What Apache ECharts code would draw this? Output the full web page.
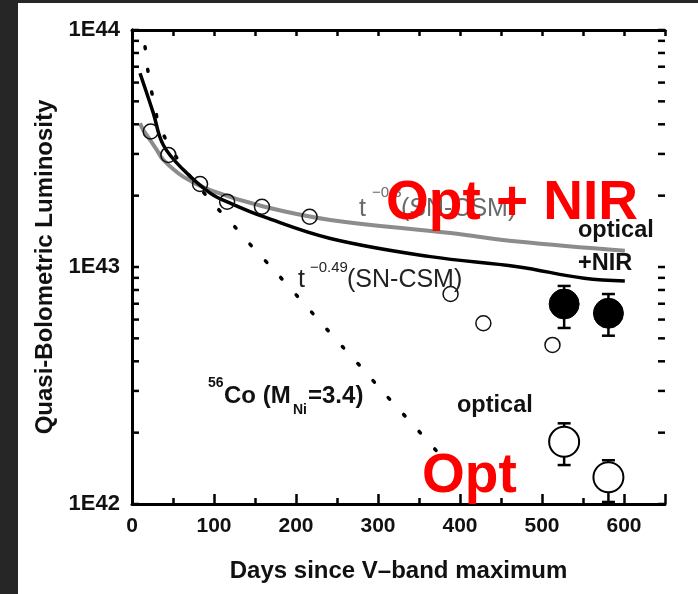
<!DOCTYPE html>
<html><head><meta charset="utf-8">
<script src="https://cdn.jsdelivr.net/npm/echarts@6/dist/echarts.min.js"></script>
<style>html,body{margin:0;padding:0;background:#fff}#c{width:698px;height:594px}</style>
</head><body><div id="c"></div><script>
// ---- data (days since V max, luminosity erg/s) ----
const optDays = [22.8, 44.3, 83, 116, 158.5, 216.6, 388.5, 428.5, 512.8];
const optLum  = [3.73e43, 2.97e43, 2.24e43, 1.886e43, 1.796e43, 1.63e43, 7.69e42, 5.79e42, 4.69e42];

const lateOptDays = [527, 581];
const lateOptLum  = [1.83e42, 1.297e42];
const lateOptLo   = [1.46e42, 1.02e42];
const lateOptHi   = [2.19e42, 1.53e42];

const nirDays = [527, 581];
const nirLum  = [6.98e42, 6.38e42];
const nirLo   = [5.53e42, 5.13e42];
const nirHi   = [8.32e42, 7.69e42];

const csm049Days = [9.8, 18, 26, 38.2, 62.7, 95.3, 119.7, 160.4, 241.9, 364.1, 470, 551.4, 601];
const csm049Lum  = [6.57e43, 5.41e43, 4.46e43, 3.27e43, 2.57e43, 2.05e43, 1.86e43, 1.63e43, 1.32e43, 1.106e43, 1.003e43, 8.96e42, 8.73e42];

const csm03Days = [9.8, 13.8, 22, 30.2, 38.2, 62.7, 95.3, 160.4, 241.9, 388.5, 470, 601];
const csm03Lum  = [4.04e43, 3.78e43, 3.44e43, 3.12e43, 2.83e43, 2.40e43, 2.11e43, 1.80e43, 1.58e43, 1.39e43, 1.28e43, 1.17e43];

const coDays = [15.9, 18.7, 22.8, 28.1, 33.4, 61.9, 104.2, 127.1, 149.1, 171.9, 260.2, 281.9, 303.9, 326.2, 348.6, 372.6];
const coLum  = [8.5e43, 7.0e43, 5.73e43, 4.74e43, 3.91e43, 2.65e43, 1.77e43, 1.456e43, 1.191e43, 9.81e42, 4.47e42, 3.70e42, 3.03e42, 2.494e42, 2.05e42, 1.656e42];

const xTickLabels = ['0','100','200','300','400','500','600'];
const yTickLabels = {42:'1E42', 43:'1E43', 44:'1E44'};
const yTickValues = [1e42,2e42,3e42,4e42,5e42,6e42,7e42,8e42,9e42,1e43,2e43,3e43,4e43,5e43,6e43,7e43,8e43,9e43,1e44];
const xRange = [0, 650];

// ---- chart ----
const FF = "'Liberation Sans', Arial, sans-serif";
const zip = (a, b) => a.map((v, i) => [v, b[i]]);
const chart = echarts.init(document.getElementById('c'), null, {renderer:'canvas'});

const axisLine = {show:true, lineStyle:{color:'#000', width:3}};
const tickStyle = {color:'#000', width:2.5};

function errRender(params, api) {
  const x = api.value(0);
  const pLo = api.coord([x, api.value(1)]);
  const pHi = api.coord([x, api.value(2)]);
  const w = 6.5;
  const st = {stroke:'#000', lineWidth:2.5};
  return {type:'group', children:[
    {type:'line', shape:{x1:pLo[0], y1:pLo[1], x2:pHi[0], y2:pHi[1]}, style:st},
    {type:'line', shape:{x1:pLo[0]-w, y1:pLo[1], x2:pLo[0]+w, y2:pLo[1]}, style:st},
    {type:'line', shape:{x1:pHi[0]-w, y1:pHi[1], x2:pHi[0]+w, y2:pHi[1]}, style:st}
  ]};
}

// inward y ticks on both frame sides, positioned by the log axis
function yTickRender(params, api) {
  const v = api.value(1);
  const pL = api.coord([xRange[0], v]);
  const pR = api.coord([xRange[1], v]);
  const len = 7;
  const st = {stroke:'#000', lineWidth:2.5};
  return {type:'group', children:[
    {type:'line', shape:{x1:pL[0], y1:pL[1], x2:pL[0]+len, y2:pL[1]}, style:st},
    {type:'line', shape:{x1:pR[0]-len, y1:pR[1], x2:pR[0], y2:pR[1]}, style:st}
  ]};
}

function T(text, x, y, size, weight, color, z) {
  return {type:'text', x:x, y:y, z: z || 50,
    style:{text:text, fontSize:size, fontWeight:weight, fontFamily:FF, fill:color,
           textAlign:'left', textVerticalAlign:'middle'}};
}

const option = {
  backgroundColor:'#fff',
  animation:false,
  grid:{left:132, right:33, top:30, bottom:90},
  xAxis:[
    {type:'value', min:xRange[0], max:xRange[1], interval:100, position:'bottom',
     axisLine:axisLine, axisTick:{inside:true, length:10, lineStyle:tickStyle},
     axisLabel:{formatter:v => xTickLabels.indexOf(String(v)) >= 0 ? String(v) : '',
                fontSize:21, fontWeight:'bold', color:'#111', fontFamily:FF, margin:12},
     splitLine:{show:false},
     name:'Days since V\u2013band maximum', nameLocation:'middle', nameGap:55,
     nameTextStyle:{fontSize:24, fontWeight:'bold', color:'#111', fontFamily:FF}},
    {type:'value', min:xRange[0], max:xRange[1], interval:50, position:'bottom',
     axisLine:{show:false}, axisTick:{inside:true, length:6, lineStyle:tickStyle},
     axisLabel:{show:false}, splitLine:{show:false}},
    {type:'value', min:xRange[0], max:xRange[1], interval:50, position:'top',
     axisLine:axisLine, axisTick:{inside:true, length:6, lineStyle:tickStyle},
     axisLabel:{show:false}, splitLine:{show:false}}
  ],
  yAxis:[
    {type:'log', logBase:10, min:1e42, max:1e44, position:'left',
     axisLine:axisLine, axisTick:{show:false},
     axisLabel:{formatter:v => yTickLabels[Math.round(Math.log10(v))] || '',
                fontSize:22, fontWeight:'bold', color:'#111', fontFamily:FF, margin:12},
     splitLine:{show:false},
     name:'Quasi-Bolometric Luminosity', nameLocation:'middle', nameGap:75,
     nameTextStyle:{fontSize:24, fontWeight:'bold', color:'#111', fontFamily:FF}},
    {type:'log', logBase:10, min:1e42, max:1e44, position:'right',
     axisLine:axisLine, axisTick:{show:false},
     axisLabel:{show:false}, splitLine:{show:false}}
  ],
  series:[
    {type:'custom', name:'yticks', renderItem:yTickRender, z:5, silent:true, clip:false,
     data: yTickValues.map(v => [xRange[0], v])},
    {type:'line', name:'t-0.3', data:zip(csm03Days, csm03Lum), showSymbol:false, smooth:0.4, z:2,
     lineStyle:{color:'#8c8c8c', width:4}},
    {type:'line', name:'t-0.49', data:zip(csm049Days, csm049Lum), showSymbol:false, smooth:0.4, z:2,
     lineStyle:{color:'#000', width:3.5}},
    {type:'line', name:'56Co', data:zip(coDays, coLum), showSymbol:false, smooth:0.3, z:2,
     lineStyle:{color:'#000', width:3.5, type:[2, 21], cap:'round'}},
    {type:'custom', name:'err', renderItem:errRender, z:3,
     data: lateOptDays.map((d,i)=>[d, lateOptLo[i], lateOptHi[i]]).concat(nirDays.map((d,i)=>[d, nirLo[i], nirHi[i]]))},
    {type:'scatter', name:'optical', data:zip(optDays, optLum), symbol:'circle', symbolSize:15, z:4,
     itemStyle:{color:'rgba(255,255,255,0)', borderColor:'#111', borderWidth:1.5, opacity:1}},
    {type:'scatter', name:'optical late', data:zip(lateOptDays, lateOptLum), symbol:'circle', symbolSize:30, z:4,
     itemStyle:{color:'#fff', borderColor:'#000', borderWidth:2, opacity:1}},
    {type:'scatter', name:'optical+NIR', data:zip(nirDays, nirLum), symbol:'circle', symbolSize:30, z:4,
     itemStyle:{color:'#000', borderColor:'#000', borderWidth:1, opacity:1}}
  ],
  graphic:[
    {type:'rect', shape:{x:0, y:0, width:18, height:594}, style:{fill:'#262626'}, z:0},
    {type:'rect', shape:{x:0, y:0, width:698, height:3}, style:{fill:'#262626'}, z:0},
    // t^-0.49 (SN-CSM)
    T('t', 298, 280, 25, 'normal', '#222'),
    T('\u22120.49', 310, 268, 15, 'normal', '#222'),
    T('(SN-CSM)', 347, 280, 25, 'normal', '#222'),
    // t^-0.3 (SN-CSM) gray
    T('t', 359, 209, 25, 'normal', '#6a6a6a'),
    T('\u22120.3', 372, 193, 15, 'normal', '#6a6a6a'),
    T('(SN-CSM)', 401, 209, 25, 'normal', '#6a6a6a'),
    // optical / +NIR
    T('optical', 578, 231, 23.5, 'bold', '#111'),
    T('+NIR', 578, 264, 23.5, 'bold', '#111'),
    T('optical', 457, 406, 23.5, 'bold', '#111'),
    // 56Co
    T('56', 208, 383, 14, 'bold', '#111'),
    T('Co (M', 224, 396, 24, 'bold', '#111'),
    T('Ni', 293, 410, 14, 'bold', '#111'),
    T('=3.4)', 308, 396, 24, 'bold', '#111'),
    // red overlays
    T('Opt + NIR', 386, 204, 55, 'bold', '#ff0000', 100),
    T('Opt', 422, 477, 55, 'bold', '#ff0000', 100)
  ]
};
chart.setOption(option);
</script></body></html>
